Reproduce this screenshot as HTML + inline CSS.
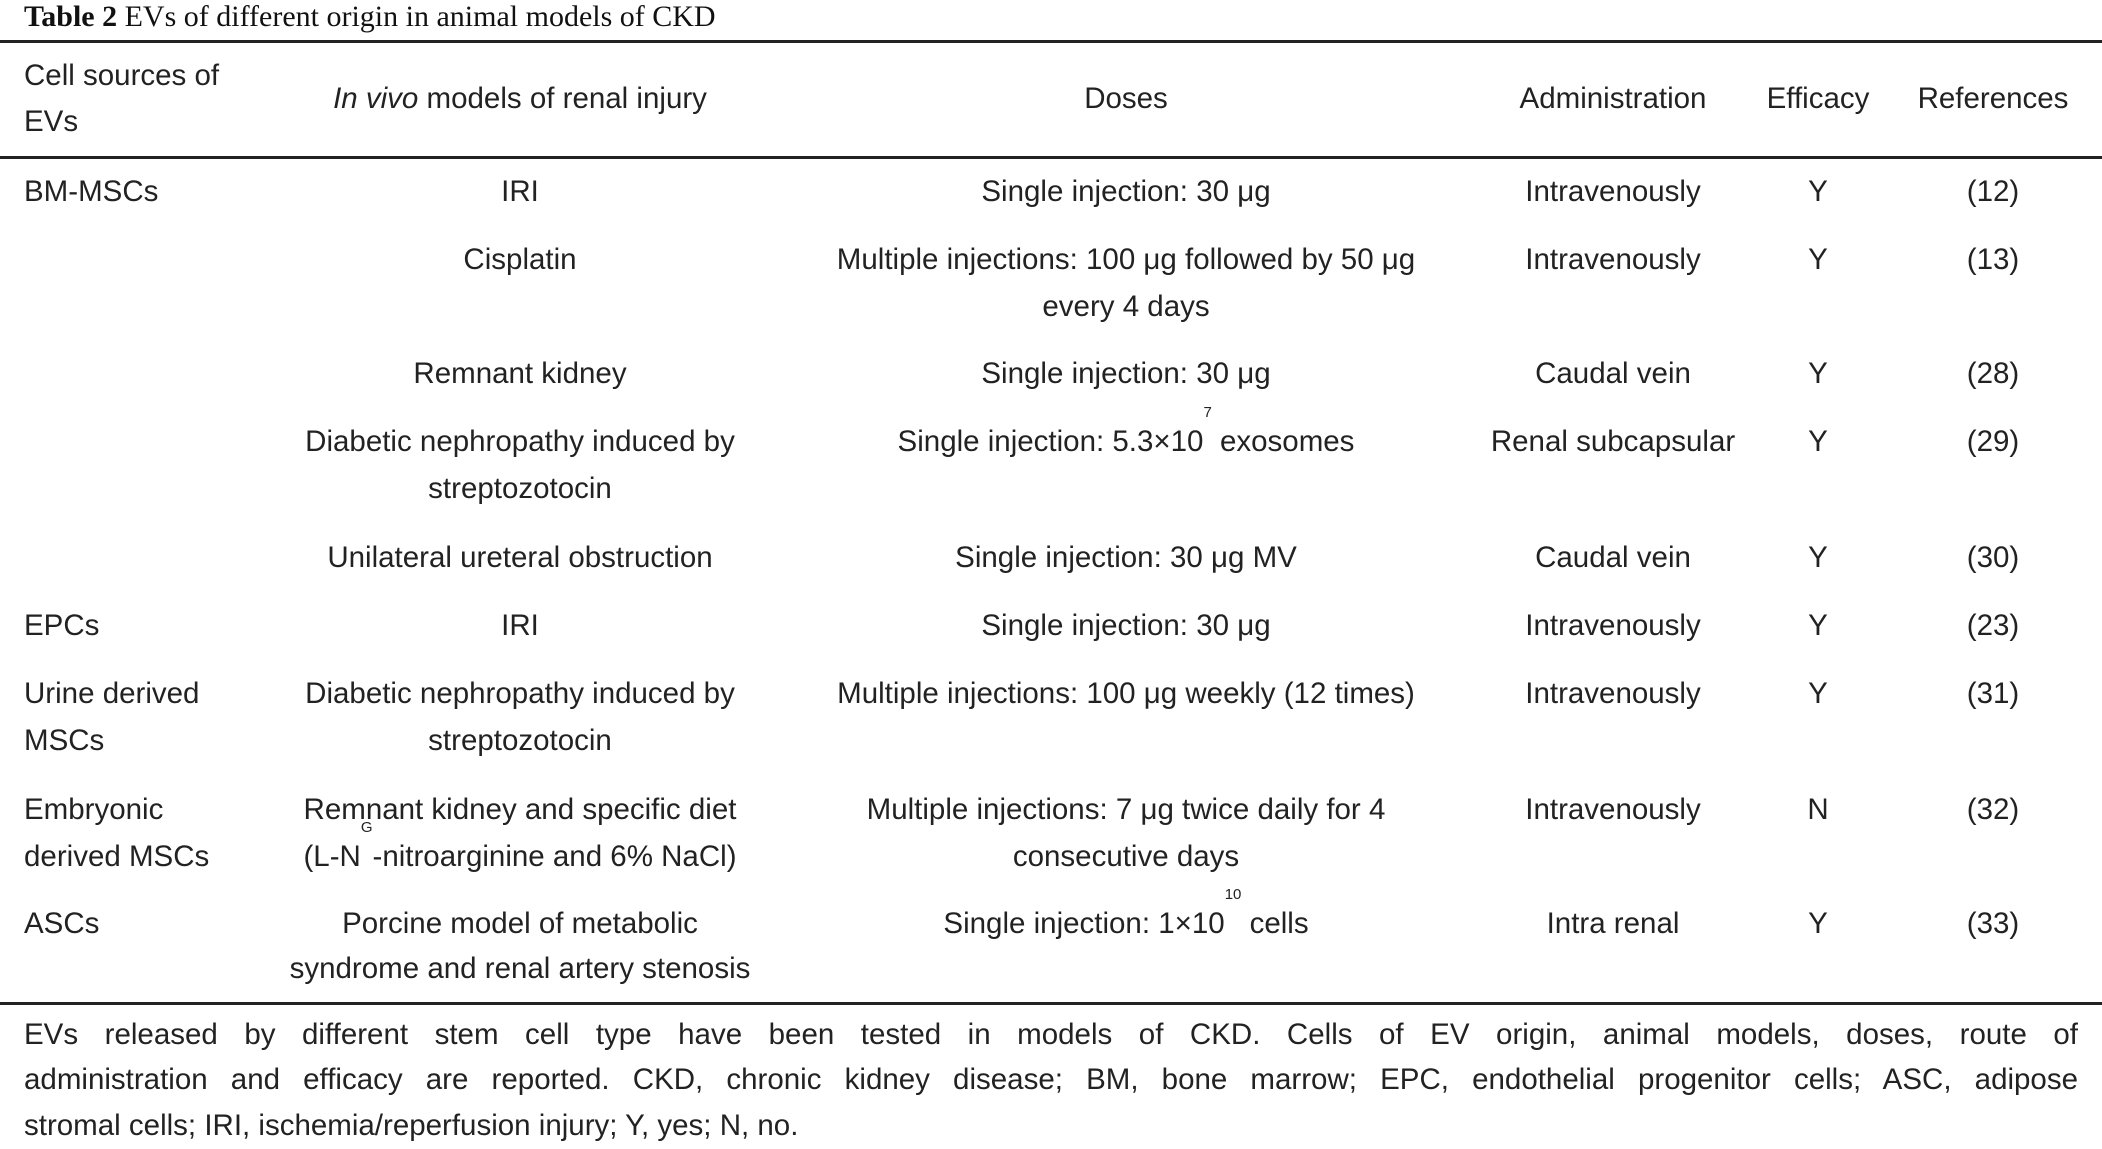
<!DOCTYPE html>
<html><head><meta charset="utf-8"><style>
body{margin:0;width:2102px;height:1145px;background:#fff;position:relative;overflow:hidden;font-family:"Liberation Sans",Arial,sans-serif;color:#222;}
.t{position:absolute;font-size:29.5px;line-height:46px;white-space:nowrap;}
.c{transform:translateX(-50%);text-align:center;}
.rule{position:absolute;left:0;width:2102px;height:2.5px;background:#222;}
sup{font-size:15px;vertical-align:top;position:relative;top:-6px;line-height:0;}
.fn{position:absolute;left:24px;width:2054px;font-size:29.5px;line-height:46px;text-align:justify;text-align-last:justify;white-space:nowrap;}
</style></head><body>
<div class="t" style="left:24px;top:-6px;font-family:'Liberation Serif',serif;font-size:30px;color:#111;"><b>Table 2</b> EVs of different origin in animal models of CKD</div>
<div class="rule" style="top:40px"></div>
<div class="rule" style="top:156px"></div>
<div class="rule" style="top:1002px"></div>

<div class="t" style="left:24px;top:53px">Cell sources of</div>
<div class="t" style="left:24px;top:99px">EVs</div>
<div class="t c" style="left:520px;top:76px"><i>In vivo</i> models of renal injury</div>
<div class="t c" style="left:1126px;top:76px">Doses</div>
<div class="t c" style="left:1613px;top:76px">Administration</div>
<div class="t c" style="left:1818px;top:76px">Efficacy</div>
<div class="t c" style="left:1993px;top:76px">References</div>

<!-- row 1 -->
<div class="t" style="left:24px;top:169px">BM-MSCs</div>
<div class="t c" style="left:520px;top:169px">IRI</div>
<div class="t c" style="left:1126px;top:169px">Single injection: 30 μg</div>
<div class="t c" style="left:1613px;top:169px">Intravenously</div>
<div class="t c" style="left:1818px;top:169px">Y</div>
<div class="t c" style="left:1993px;top:169px">(12)</div>
<!-- row 2 -->
<div class="t c" style="left:520px;top:237px">Cisplatin</div>
<div class="t c" style="left:1126px;top:237px">Multiple injections: 100 μg followed by 50 μg</div>
<div class="t c" style="left:1126px;top:284px">every 4 days</div>
<div class="t c" style="left:1613px;top:237px">Intravenously</div>
<div class="t c" style="left:1818px;top:237px">Y</div>
<div class="t c" style="left:1993px;top:237px">(13)</div>
<!-- row 3 -->
<div class="t c" style="left:520px;top:351px">Remnant kidney</div>
<div class="t c" style="left:1126px;top:351px">Single injection: 30 μg</div>
<div class="t c" style="left:1613px;top:351px">Caudal vein</div>
<div class="t c" style="left:1818px;top:351px">Y</div>
<div class="t c" style="left:1993px;top:351px">(28)</div>
<!-- row 4 -->
<div class="t c" style="left:520px;top:419px">Diabetic nephropathy induced by</div>
<div class="t c" style="left:520px;top:466px">streptozotocin</div>
<div class="t c" style="left:1126px;top:419px">Single injection: 5.3×10<sup>7</sup> exosomes</div>
<div class="t c" style="left:1613px;top:419px">Renal subcapsular</div>
<div class="t c" style="left:1818px;top:419px">Y</div>
<div class="t c" style="left:1993px;top:419px">(29)</div>
<!-- row 5 -->
<div class="t c" style="left:520px;top:535px">Unilateral ureteral obstruction</div>
<div class="t c" style="left:1126px;top:535px">Single injection: 30 μg MV</div>
<div class="t c" style="left:1613px;top:535px">Caudal vein</div>
<div class="t c" style="left:1818px;top:535px">Y</div>
<div class="t c" style="left:1993px;top:535px">(30)</div>
<!-- row 6 -->
<div class="t" style="left:24px;top:603px">EPCs</div>
<div class="t c" style="left:520px;top:603px">IRI</div>
<div class="t c" style="left:1126px;top:603px">Single injection: 30 μg</div>
<div class="t c" style="left:1613px;top:603px">Intravenously</div>
<div class="t c" style="left:1818px;top:603px">Y</div>
<div class="t c" style="left:1993px;top:603px">(23)</div>
<!-- row 7 -->
<div class="t" style="left:24px;top:671px">Urine derived</div>
<div class="t" style="left:24px;top:718px">MSCs</div>
<div class="t c" style="left:520px;top:671px">Diabetic nephropathy induced by</div>
<div class="t c" style="left:520px;top:718px">streptozotocin</div>
<div class="t c" style="left:1126px;top:671px">Multiple injections: 100 μg weekly (12 times)</div>
<div class="t c" style="left:1613px;top:671px">Intravenously</div>
<div class="t c" style="left:1818px;top:671px">Y</div>
<div class="t c" style="left:1993px;top:671px">(31)</div>
<!-- row 8 -->
<div class="t" style="left:24px;top:787px">Embryonic</div>
<div class="t" style="left:24px;top:834px">derived MSCs</div>
<div class="t c" style="left:520px;top:787px">Remnant kidney and specific diet</div>
<div class="t c" style="left:520px;top:834px">(L-N<sup>G</sup>-nitroarginine and 6% NaCl)</div>
<div class="t c" style="left:1126px;top:787px">Multiple injections: 7 μg twice daily for 4</div>
<div class="t c" style="left:1126px;top:834px">consecutive days</div>
<div class="t c" style="left:1613px;top:787px">Intravenously</div>
<div class="t c" style="left:1818px;top:787px">N</div>
<div class="t c" style="left:1993px;top:787px">(32)</div>
<!-- row 9 -->
<div class="t" style="left:24px;top:901px">ASCs</div>
<div class="t c" style="left:520px;top:901px">Porcine model of metabolic</div>
<div class="t c" style="left:520px;top:946px">syndrome and renal artery stenosis</div>
<div class="t c" style="left:1126px;top:901px">Single injection: 1×10<sup>10</sup> cells</div>
<div class="t c" style="left:1613px;top:901px">Intra renal</div>
<div class="t c" style="left:1818px;top:901px">Y</div>
<div class="t c" style="left:1993px;top:901px">(33)</div>

<div class="fn" style="top:1012px">EVs released by different stem cell type have been tested in models of CKD. Cells of EV origin, animal models, doses, route of</div>
<div class="fn" style="top:1057px">administration and efficacy are reported. CKD, chronic kidney disease; BM, bone marrow; EPC, endothelial progenitor cells; ASC, adipose</div>
<div class="fn" style="top:1103px;text-align-last:left">stromal cells; IRI, ischemia/reperfusion injury; Y, yes; N, no.</div>
</body></html>
